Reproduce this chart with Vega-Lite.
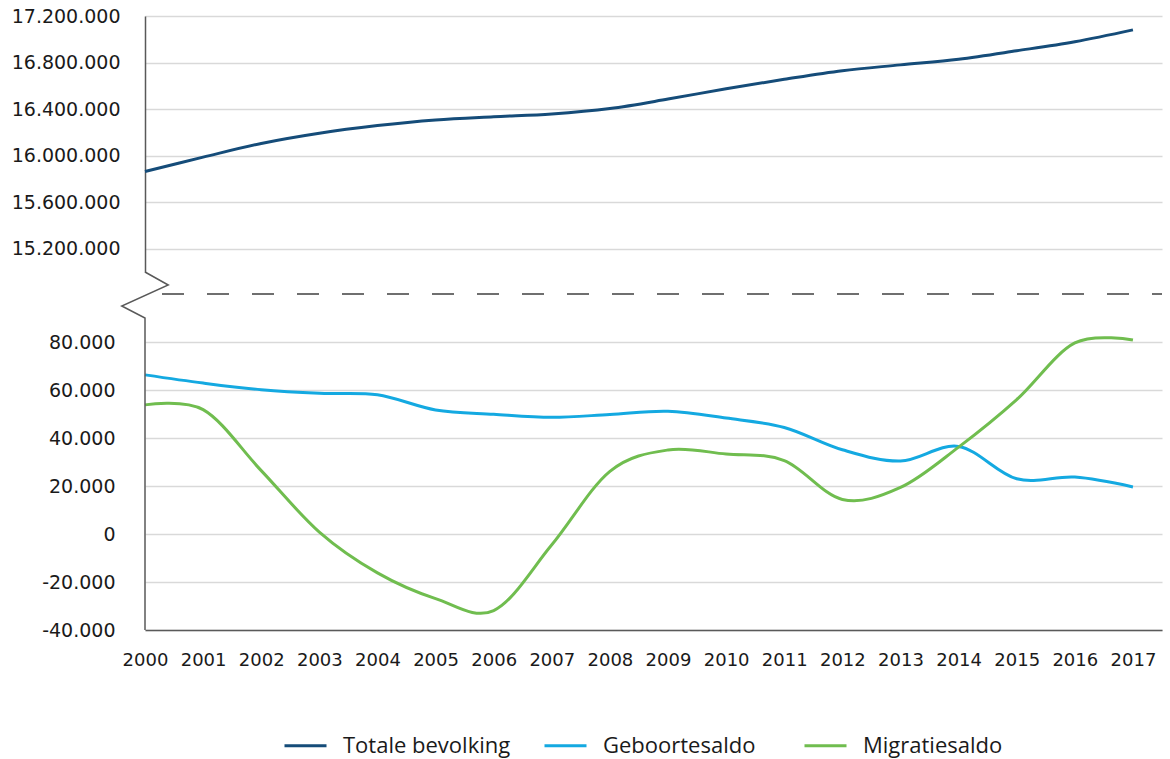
{
  "$schema": "https://vega.github.io/schema/vega-lite/v6.json",
  "padding": {"left": 11, "top": 7, "right": 5, "bottom": 5},
  "background": "white",
  "config": {
    "locale": {"number": {"decimal": ",", "thousands": ".", "grouping": [3], "currency": ["€", ""], "minus": "-"}},
    "view": {"stroke": null},
    "axis": {"labelFont": "DejaVu Sans", "labelFontSize": 19, "labelColor": "#1a1a1a", "ticks": false, "title": null, "gridColor": "#d9d9d9", "gridWidth": 1.5, "domainColor": "#595959", "domainWidth": 1.5},
    "legend": {"labelFont": "Open Sans", "labelFontSize": 22, "labelColor": "#1a1a1a", "labelLimit": 400}
  },
  "datasets": {
    "pop": [
      {"year": 2000, "series": "Totale bevolking", "value": 15864000},
      {"year": 2001, "series": "Totale bevolking", "value": 15987000},
      {"year": 2002, "series": "Totale bevolking", "value": 16105000},
      {"year": 2003, "series": "Totale bevolking", "value": 16193000},
      {"year": 2004, "series": "Totale bevolking", "value": 16258000},
      {"year": 2005, "series": "Totale bevolking", "value": 16306000},
      {"year": 2006, "series": "Totale bevolking", "value": 16334000},
      {"year": 2007, "series": "Totale bevolking", "value": 16358000},
      {"year": 2008, "series": "Totale bevolking", "value": 16405000},
      {"year": 2009, "series": "Totale bevolking", "value": 16486000},
      {"year": 2010, "series": "Totale bevolking", "value": 16575000},
      {"year": 2011, "series": "Totale bevolking", "value": 16656000},
      {"year": 2012, "series": "Totale bevolking", "value": 16730000},
      {"year": 2013, "series": "Totale bevolking", "value": 16780000},
      {"year": 2014, "series": "Totale bevolking", "value": 16829000},
      {"year": 2015, "series": "Totale bevolking", "value": 16901000},
      {"year": 2016, "series": "Totale bevolking", "value": 16979000},
      {"year": 2017, "series": "Totale bevolking", "value": 17081000}
    ],
    "saldo": [
      {"year": 2000, "series": "Geboortesaldo", "value": 66300},
      {"year": 2001, "series": "Geboortesaldo", "value": 62900},
      {"year": 2002, "series": "Geboortesaldo", "value": 60100},
      {"year": 2003, "series": "Geboortesaldo", "value": 58600},
      {"year": 2004, "series": "Geboortesaldo", "value": 58000},
      {"year": 2005, "series": "Geboortesaldo", "value": 51700},
      {"year": 2006, "series": "Geboortesaldo", "value": 49900},
      {"year": 2007, "series": "Geboortesaldo", "value": 48600},
      {"year": 2008, "series": "Geboortesaldo", "value": 49800},
      {"year": 2009, "series": "Geboortesaldo", "value": 51100},
      {"year": 2010, "series": "Geboortesaldo", "value": 48300},
      {"year": 2011, "series": "Geboortesaldo", "value": 44400},
      {"year": 2012, "series": "Geboortesaldo", "value": 35100},
      {"year": 2013, "series": "Geboortesaldo", "value": 30400},
      {"year": 2014, "series": "Geboortesaldo", "value": 36500},
      {"year": 2015, "series": "Geboortesaldo", "value": 23000},
      {"year": 2016, "series": "Geboortesaldo", "value": 23700},
      {"year": 2017, "series": "Geboortesaldo", "value": 19600},
      {"year": 2000, "series": "Migratiesaldo", "value": 53800},
      {"year": 2001, "series": "Migratiesaldo", "value": 51800},
      {"year": 2002, "series": "Migratiesaldo", "value": 26400},
      {"year": 2003, "series": "Migratiesaldo", "value": 800},
      {"year": 2004, "series": "Migratiesaldo", "value": -16200},
      {"year": 2005, "series": "Migratiesaldo", "value": -26900},
      {"year": 2006, "series": "Migratiesaldo", "value": -31900},
      {"year": 2007, "series": "Migratiesaldo", "value": -4500},
      {"year": 2008, "series": "Migratiesaldo", "value": 26100},
      {"year": 2009, "series": "Migratiesaldo", "value": 35000},
      {"year": 2010, "series": "Migratiesaldo", "value": 33300},
      {"year": 2011, "series": "Migratiesaldo", "value": 30600},
      {"year": 2012, "series": "Migratiesaldo", "value": 14400},
      {"year": 2013, "series": "Migratiesaldo", "value": 19400},
      {"year": 2014, "series": "Migratiesaldo", "value": 36200},
      {"year": 2015, "series": "Migratiesaldo", "value": 56000},
      {"year": 2016, "series": "Migratiesaldo", "value": 79600},
      {"year": 2017, "series": "Migratiesaldo", "value": 80800}
    ],
    "brk": [
      {"i": 1, "x": 2000, "y": 109167},
      {"i": 2, "x": 2000.4, "y": 103750},
      {"i": 3, "x": 1999.6, "y": 95000},
      {"i": 4, "x": 2000, "y": 90000},
      {"i": 5, "x": 2000, "y": -40000}
    ]
  },
  "bounds": "flush",
  "spacing": 22,
  "vconcat": [
    {
      "width": 1017,
      "height": 256,
      "data": {"name": "pop"},
      "mark": {"type": "line", "interpolate": "cardinal", "strokeWidth": 3},
      "encoding": {
        "x": {"field": "year", "type": "quantitative", "scale": {"domain": [2000, 2017.5], "nice": false, "zero": false}, "axis": null},
        "y": {"field": "value", "type": "quantitative", "scale": {"domain": [15000000, 17200000], "nice": false, "zero": false},
              "axis": {"values": [15200000, 15600000, 16000000, 16400000, 16800000, 17200000], "format": ",d", "labelPadding": 25, "grid": true, "domain": true}},
        "color": {"field": "series", "type": "nominal",
                  "scale": {"domain": ["Totale bevolking", "Geboortesaldo", "Migratiesaldo"], "range": ["#154c79", "#14a9e1", "#70bd4f"]},
                  "legend": {"orient": "none", "legendX": 138, "legendY": 707, "direction": "horizontal", "title": null, "symbolType": "stroke", "symbolSize": 1764, "symbolStrokeWidth": 3, "labelOffset": 15, "columnPadding": 27, "gridAlign": "all"}}
      }
    },
    {
      "width": 1017,
      "height": 336,
      "layer": [
        {
          "data": {"name": "saldo"},
          "mark": {"type": "line", "interpolate": "cardinal", "strokeWidth": 3},
          "encoding": {
            "x": {"field": "year", "type": "quantitative", "scale": {"domain": [2000, 2017.5], "nice": false, "zero": false},
                  "axis": {"values": [2000, 2001, 2002, 2003, 2004, 2005, 2006, 2007, 2008, 2009, 2010, 2011, 2012, 2013, 2014, 2015, 2016, 2017], "format": "d", "labelPadding": 21, "labelOverlap": false, "labelFlush": false, "labelFontSize": 18, "grid": false, "domain": true}},
            "y": {"field": "value", "type": "quantitative", "scale": {"domain": [-40000, 100000], "nice": false, "zero": false},
                  "axis": {"values": [-40000, -20000, 0, 20000, 40000, 60000, 80000], "format": ",d", "labelPadding": 30, "grid": true, "domain": false}},
            "color": {"field": "series", "type": "nominal"}
          }
        },
        {
          "data": {"values": [{}]},
          "mark": {"type": "rule", "color": "#404040", "strokeWidth": 1.5, "strokeDash": [22, 23], "strokeDashOffset": 12},
          "encoding": {"y": {"datum": 100000}}
        },
        {
          "data": {"name": "brk"},
          "mark": {"type": "line", "color": "#595959", "strokeWidth": 1.5, "interpolate": "linear"},
          "encoding": {
            "x": {"field": "x", "type": "quantitative"},
            "y": {"field": "y", "type": "quantitative"},
            "order": {"field": "i", "type": "quantitative"}
          }
        }
      ]
    }
  ]
}
